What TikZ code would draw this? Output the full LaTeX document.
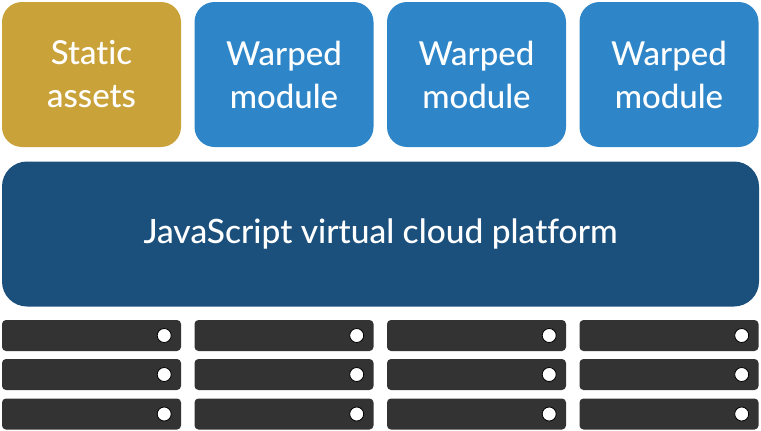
\documentclass[tikz,border=0pt]{standalone}
\usepackage{fontspec}
\setmainfont{Lato Medium}[Ligatures={NoCommon}]
\definecolor{assetgold}{HTML}{C9A23A}
\definecolor{moduleblue}{HTML}{2E86C8}
\definecolor{platformblue}{HTML}{1B4F7C}
\definecolor{servergray}{HTML}{333333}
\tikzset{
  tile/.style={rounded corners=20pt,minimum width=179pt,minimum height=145pt,
    text=white,align=center,font=\fontsize{33}{43}\selectfont,inner sep=0pt},
  platform/.style={rounded corners=25pt,fill=platformblue,minimum width=757pt,
    minimum height=145pt,text=white,font=\fontsize{33.5}{43}\selectfont},
  server/.style={rounded corners=4pt,fill=servergray,minimum width=179pt,
    minimum height=31pt,inner sep=0pt},
  led/.style={circle,fill=white,draw=black,line width=0.8pt,minimum size=14pt,inner sep=0pt}
}
\begin{document}
\begin{tikzpicture}[x=1pt,y=-1pt]
    \useasboundingbox (0,0) rectangle (761,431);
    % top row
    \node[tile,fill=assetgold] (assets) at (91.5,74.5) {Static\\assets};
    \foreach \i/\cx in {1/284,2/476.5,3/669}
        \node[tile,fill=moduleblue] (module\i) at (\cx,74.5) {Warped\\module};
    % platform
    \node[platform] (cloud) at (380.5,234) {JavaScript virtual cloud platform};
    % servers
    \foreach \cx [count=\c] in {91.5,284,476.5,669}
        \foreach \cy [count=\r] in {335.5,374.5,414}{
            \node[server] (srv\c\r) at (\cx,\cy) {};
            \node[led] (led\c\r) at ([xshift=-17pt]srv\c\r.east) {};
        }
\end{tikzpicture}
\end{document}
